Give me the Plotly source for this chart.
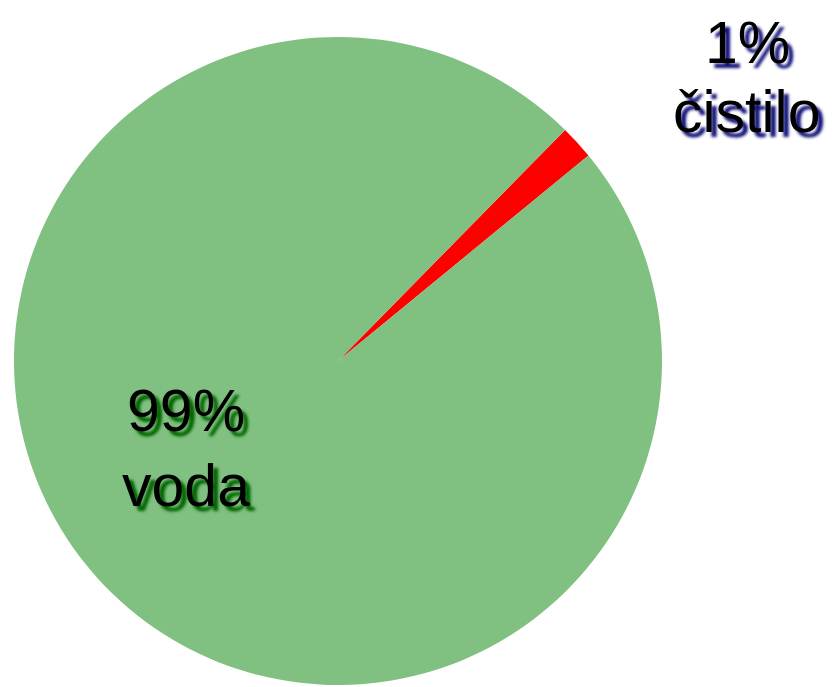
import plotly.graph_objects as go

labels = ["čistilo", "voda"]
values = [1.7, 98.3]
pct_text = ["1%", "99%"]
colors = ["#FF0000", "#80C080"]
shadow_colors = ["#10107a", "#006400"]

W, H = 837, 687
OFF = 8  # page body margin compensation
FS = 59

fig = go.Figure(go.Pie(
    labels=labels,
    values=values,
    sort=False,
    direction="clockwise",
    rotation=44.5,
    marker=dict(colors=colors, line=dict(width=0)),
    textinfo="none",
    hoverinfo="label+percent",
    showlegend=False,
    domain=dict(x=[(14 - OFF) / W, (662 - OFF) / W],
                y=[(2 + OFF) / H, (650 + OFF) / H]),
))

# (x centre, baseline of first line, baseline of second line) in page pixels
label_pos = [(747, 64, 133), (186, 432, 507)]
for lab, pct, sc, (px, b1, b2) in zip(labels, pct_text, shadow_colors, label_pos):
    for txt, base in ((pct, b1), (lab, b2)):
        fig.add_annotation(
            x=(px - OFF) / W, y=1 - (base - OFF) / H, xref="paper", yref="paper",
            text=txt, showarrow=False,
            xanchor="center", yanchor="bottom", align="center", borderpad=0,
            yshift=-0.22 * FS,
            font=dict(family="Liberation Sans, Arial, sans-serif", size=FS, color="#000000",
                      shadow=f"5px 5px 3px {sc}"),
        )

fig.update_layout(
    width=W, height=H,
    margin=dict(l=0, r=0, t=0, b=0),
    paper_bgcolor="white", plot_bgcolor="white",
)

fig.write_html("out.html")
